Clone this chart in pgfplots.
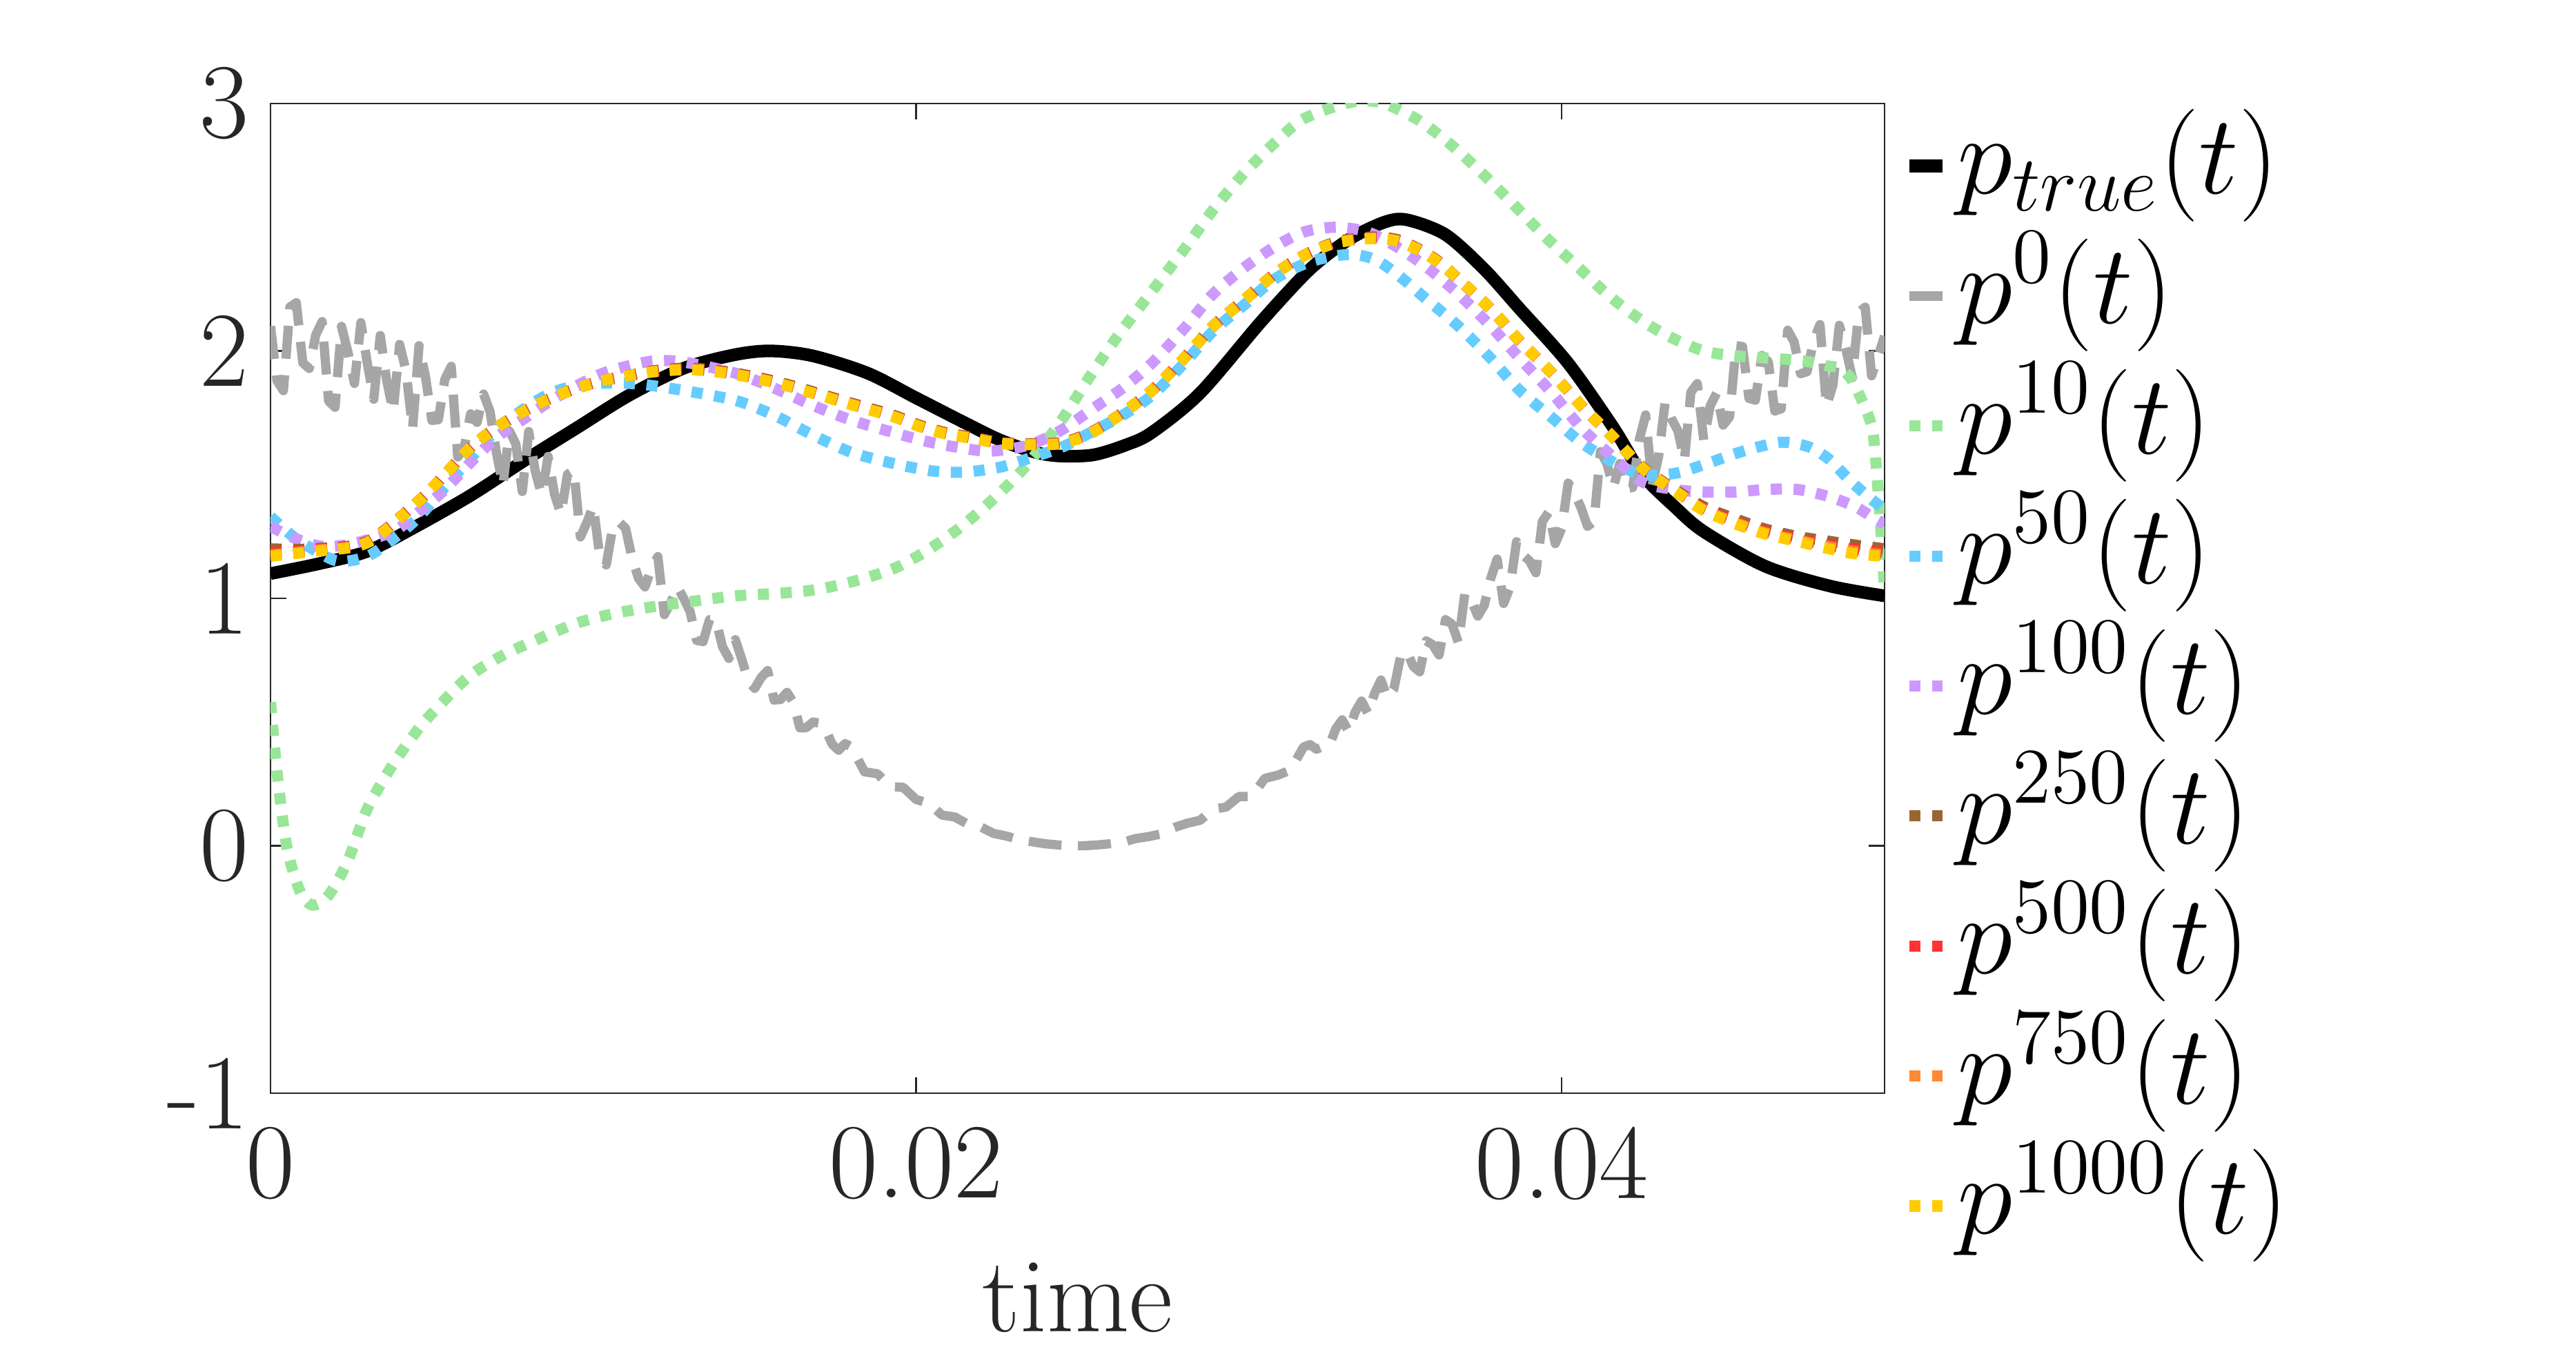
\RequirePackage{fix-cm}
\documentclass[border=0pt]{standalone}
\usepackage{pgfplots}
\pgfplotsset{compat=1.18}
\usepackage{pgfplotstable}
\definecolor{axgray}{HTML}{262626}
\definecolor{cgray}{HTML}{A6A6A6}
\definecolor{cgreen}{HTML}{99E699}
\definecolor{cblue}{HTML}{66CCFF}
\definecolor{cpurple}{HTML}{CC99FF}
\definecolor{cbrown}{HTML}{996633}
\definecolor{cred}{HTML}{FF3333}
\definecolor{corange}{HTML}{FF8833}
\definecolor{cyellow}{HTML}{FFCC00}

\pgfplotstableread{
t brown red orange yellow
0      1.200 1.185 1.175 1.170
0.0013 1.200 1.195 1.192 1.190
0.0030 1.230 1.228 1.226 1.225
0.0046 1.395 1.395 1.395 1.395
0.0054 1.500 1.500 1.500 1.500
0.0062 1.610 1.610 1.610 1.610
0.0070 1.690 1.690 1.690 1.690
0.0079 1.760 1.760 1.760 1.760
0.0087 1.810 1.810 1.810 1.810
0.0095 1.850 1.850 1.850 1.850
0.0103 1.880 1.880 1.880 1.880
0.0111 1.900 1.900 1.900 1.900
0.0119 1.920 1.918 1.917 1.916
0.0128 1.930 1.926 1.925 1.924
0.0136 1.925 1.921 1.920 1.919
0.0144 1.910 1.906 1.905 1.904
0.0152 1.890 1.886 1.885 1.884
0.0160 1.865 1.861 1.860 1.859
0.0168 1.835 1.831 1.830 1.829
0.0177 1.800 1.796 1.795 1.794
0.0185 1.770 1.766 1.765 1.764
0.0193 1.740 1.736 1.735 1.734
0.0201 1.700 1.697 1.696 1.695
0.0209 1.670 1.667 1.666 1.665
0.0218 1.650 1.647 1.646 1.645
0.0226 1.630 1.628 1.627 1.626
0.0235 1.625 1.623 1.622 1.621
0.0245 1.630 1.628 1.627 1.626
0.0254 1.670 1.668 1.667 1.666
0.0264 1.750 1.750 1.750 1.750
0.0273 1.840 1.840 1.840 1.840
0.0283 1.970 1.970 1.970 1.970
0.0292 2.100 2.100 2.100 2.100
0.0302 2.210 2.210 2.210 2.210
0.0311 2.310 2.310 2.310 2.310
0.0320 2.385 2.385 2.385 2.385
0.0330 2.440 2.438 2.437 2.436
0.0341 2.460 2.456 2.455 2.454
0.0349 2.450 2.446 2.445 2.444
0.0356 2.410 2.408 2.407 2.406
0.0362 2.360 2.358 2.357 2.356
0.0368 2.290 2.290 2.290 2.290
0.0378 2.170 2.170 2.170 2.170
0.0387 2.040 2.040 2.040 2.040
0.0397 1.910 1.910 1.910 1.910
0.0406 1.780 1.780 1.780 1.780
0.0416 1.650 1.650 1.650 1.650
0.0425 1.530 1.528 1.527 1.526
0.0435 1.440 1.436 1.435 1.434
0.0444 1.370 1.362 1.358 1.355
0.0454 1.320 1.310 1.305 1.300
0.0463 1.280 1.270 1.265 1.260
0.0473 1.250 1.240 1.235 1.230
0.0483 1.230 1.215 1.208 1.200
0.0491 1.215 1.198 1.189 1.180
0.0500 1.200 1.185 1.176 1.170
}\cluster

\begin{document}
\begin{tikzpicture}
\begin{axis}[
  scale only axis, width=11.695cm, height=7.17cm,
  xmin=0, xmax=0.05, ymin=-1, ymax=3,
  scaled x ticks=false, scaled y ticks=false,
  xtick={0,0.02,0.04}, xticklabels={0,0.02,0.04},
  ytick={-1,0,1,2,3}, yticklabels={-1,0,1,2,3},
  tick align=inside, major tick length=0.115cm,
  axis line style={axgray, line width=0.35pt},
  every tick/.style={axgray, line width=0.35pt},
  tick label style={font=\fontsize{22}{26}\selectfont, text=axgray},
  xticklabel style={yshift=-0.12cm},
  yticklabel style={xshift=-0.035cm},
  xlabel={time},
  xlabel style={font=\fontsize{22}{26}\selectfont, text=axgray, at={(axis description cs:0.5,0)}, anchor=base, yshift=-1.73cm},
  legend image code/.code={\draw[#1] (0cm,5.7pt) -- (0.24cm,5.7pt);},
  legend style={at={(1.0115,0.9972)}, anchor=north west, draw=none, fill=none,
    inner sep=0pt, outer sep=0pt, font=\fontsize{23.2}{27}\selectfont,
    row sep=0pt, column sep=0.06cm,
    cells={anchor=base west},
    nodes={inner sep=0pt, text height=18pt, text depth=8.8pt, anchor=base west}},
  dotline/.style={line width=2.3pt, line cap=butt, dash pattern=on 2.3pt off 2.4pt},
]
% p_true
\addplot[black, line width=2.6pt, smooth, tension=0.5] coordinates {
(0,1.10) (0.0015,1.14) (0.003,1.19) (0.0045,1.29) (0.0062,1.416) (0.0079,1.56) (0.0095,1.69) (0.0111,1.82) (0.0128,1.93) (0.0144,1.985) (0.0155,2.0) (0.0168,1.98) (0.0185,1.91) (0.0200,1.81) (0.0215,1.71) (0.0226,1.64) (0.0237,1.59) (0.0245,1.575) (0.0255,1.58) (0.0265,1.62) (0.0273,1.67) (0.0288,1.83) (0.0307,2.12) (0.0322,2.33) (0.0334,2.45) (0.0345,2.52) (0.0352,2.53) (0.0364,2.47) (0.0376,2.33) (0.0387,2.17) (0.0402,1.95) (0.0416,1.69) (0.0425,1.50) (0.0435,1.37) (0.0444,1.27) (0.0463,1.13) (0.0483,1.05) (0.05,1.01)
};
\addlegendentry{$p_{true}(t)$}
% p^0
\addplot[cgray, line width=1.9pt, line join=round, dash pattern=on 6.8pt off 3.4pt] coordinates {
(0,2.10) (0.0002,1.880) (0.0004,1.839) (0.0006,2.177) (0.0008,2.195) (0.0010,1.952) (0.0012,1.929) (0.0014,2.064) (0.0016,2.119) (0.0018,1.797)
(0.0020,1.772) (0.0022,2.099) (0.0024,1.994) (0.0026,1.869) (0.0028,2.114) (0.0030,1.949) (0.0032,1.805) (0.0034,2.062) (0.0036,1.880) (0.0038,1.755)
(0.0040,2.026) (0.0042,1.919) (0.0044,1.684) (0.0046,2.021) (0.0048,1.897) (0.0050,1.719) (0.0052,1.722) (0.0054,1.885) (0.0056,1.938) (0.0058,1.571)
(0.0060,1.608) (0.0062,1.746) (0.0064,1.711) (0.0066,1.826) (0.0068,1.756) (0.0070,1.588) (0.0072,1.456) (0.0074,1.677) (0.0076,1.624) (0.0078,1.432)
(0.0080,1.674) (0.0082,1.515) (0.0084,1.418) (0.0086,1.573) (0.0088,1.419) (0.0090,1.340) (0.0092,1.501) (0.0094,1.517) (0.0096,1.248) (0.0098,1.306)
(0.0100,1.374) (0.0102,1.169) (0.0104,1.135) (0.0106,1.286) (0.0108,1.309) (0.0110,1.283) (0.0112,1.163) (0.0114,1.081) (0.0116,1.046) (0.0118,1.121)
(0.0120,1.169) (0.0122,0.934) (0.0124,0.983) (0.0126,1.047) (0.0128,1.000) (0.0130,0.946) (0.0132,0.830) (0.0134,0.825) (0.0136,0.914) (0.0138,0.913)
(0.0140,0.805) (0.0142,0.757) (0.0144,0.833) (0.0146,0.754) (0.0148,0.665) (0.0150,0.636) (0.0152,0.680) (0.0154,0.708) (0.0156,0.589) (0.0158,0.591)
(0.0160,0.620) (0.0162,0.579) (0.0164,0.476) (0.0166,0.477) (0.0168,0.500) (0.0170,0.496) (0.0172,0.470) (0.0174,0.410) (0.0176,0.386) (0.0178,0.413)
(0.0180,0.399) (0.0184,0.299) (0.0188,0.291) (0.0192,0.239) (0.0196,0.236)
(0.0200,0.187) (0.0204,0.171) (0.0208,0.124) (0.0212,0.116) (0.0216,0.087) (0.0220,0.076) (0.0224,0.050) (0.0228,0.039) (0.0232,0.024) (0.0236,0.016)
(0.0240,0.008) (0.0244,0.003) (0.0248,0.000) (0.0252,0.000) (0.0256,0.003) (0.0260,0.008) (0.0264,0.014) (0.0268,0.029) (0.0272,0.037) (0.0276,0.048)
(0.0280,0.074) (0.0284,0.091) (0.0288,0.103) (0.0292,0.148) (0.0296,0.156) (0.0300,0.199) (0.0304,0.199) (0.0308,0.272) (0.0312,0.285) (0.0316,0.306)
(0.0320,0.399) (0.0322,0.409) (0.0324,0.390) (0.0326,0.401) (0.0328,0.403) (0.0330,0.473) (0.0332,0.509) (0.0334,0.461) (0.0336,0.540) (0.0338,0.585)
(0.0340,0.534) (0.0342,0.615) (0.0344,0.670) (0.0346,0.598) (0.0348,0.634) (0.0350,0.760) (0.0352,0.787) (0.0354,0.725) (0.0356,0.703) (0.0358,0.828)
(0.0360,0.813) (0.0362,0.771) (0.0364,0.914) (0.0366,0.896) (0.0368,0.821) (0.0370,1.021) (0.0372,0.991) (0.0374,0.928) (0.0376,0.972) (0.0378,1.080)
(0.0380,1.159) (0.0382,0.979) (0.0384,1.046) (0.0386,1.229) (0.0388,1.175) (0.0390,1.152) (0.0392,1.103) (0.0394,1.311) (0.0396,1.349) (0.0398,1.221)
(0.0400,1.283) (0.0402,1.466) (0.0404,1.424) (0.0406,1.366) (0.0408,1.291) (0.0410,1.311) (0.0412,1.593) (0.0414,1.544) (0.0416,1.448) (0.0418,1.545)
(0.0420,1.444) (0.0422,1.448) (0.0424,1.640) (0.0426,1.741) (0.0428,1.456) (0.0430,1.572) (0.0432,1.790) (0.0434,1.726) (0.0436,1.677) (0.0438,1.557)
(0.0440,1.833) (0.0442,1.868) (0.0444,1.639) (0.0446,1.778) (0.0448,1.830) (0.0450,1.700) (0.0452,1.733) (0.0454,2.021) (0.0456,2.018) (0.0458,1.808)
(0.0460,1.801) (0.0462,1.982) (0.0464,1.956) (0.0466,1.757) (0.0468,1.766) (0.0470,2.084) (0.0472,2.036) (0.0474,1.908) (0.0476,1.916) (0.0478,2.040)
(0.0480,2.107) (0.0482,1.777) (0.0484,1.861) (0.0486,2.104) (0.0488,2.009) (0.0490,1.892) (0.0492,2.155) (0.0494,2.177) (0.0496,1.899) (0.0498,1.979)
(0.0500,2.06)
};
\addlegendentry{$p^{0}(t)$}
% p^10
\addplot[cgreen, dotline, smooth, tension=0.5] coordinates {
(0,0.58) (0.0002,0.30) (0.0005,0.0) (0.0009,-0.18) (0.0013,-0.24) (0.0018,-0.20) (0.0024,-0.06) (0.003,0.15) (0.0038,0.33) (0.0046,0.475) (0.0054,0.59) (0.0062,0.69) (0.0072,0.77) (0.0082,0.83) (0.0095,0.90) (0.0107,0.94) (0.0119,0.967) (0.0132,0.99) (0.0144,1.01) (0.0157,1.02) (0.0169,1.035) (0.0181,1.07) (0.0193,1.12) (0.0203,1.19) (0.0213,1.28) (0.0223,1.39) (0.0233,1.52) (0.0244,1.70) (0.0254,1.90) (0.0263,2.07) (0.0273,2.24) (0.0283,2.41) (0.0292,2.57) (0.0301,2.71) (0.0311,2.84) (0.0319,2.93) (0.0328,2.98) (0.0337,3.01) (0.0345,3.0) (0.0356,2.93) (0.0366,2.83) (0.0376,2.71) (0.0386,2.58) (0.0395,2.46) (0.0405,2.34) (0.0414,2.23) (0.0424,2.13) (0.0433,2.06) (0.0444,2.0) (0.0454,1.98) (0.0465,1.97) (0.0475,1.96) (0.0482,1.94) (0.0486,1.93) (0.0490,1.88) (0.04955,1.72) (0.0497,1.60) (0.0499,1.25) (0.05,1.02)
};
\addlegendentry{$p^{10}(t)$}
% p^50
\addplot[cblue, dotline, smooth, tension=0.5] coordinates {
(0,1.33) (0.0007,1.25) (0.0013,1.20) (0.0021,1.15) (0.003,1.17) (0.0038,1.24) (0.0046,1.33) (0.0054,1.45) (0.0062,1.566) (0.0070,1.68) (0.0079,1.77) (0.0087,1.83) (0.0095,1.86) (0.0105,1.87) (0.0115,1.865) (0.0128,1.84) (0.0144,1.80) (0.0156,1.74) (0.0168,1.66) (0.018,1.59) (0.0193,1.545) (0.0205,1.515) (0.0215,1.51) (0.0226,1.53) (0.0235,1.566) (0.0245,1.61) (0.0254,1.67) (0.0264,1.74) (0.0273,1.82) (0.0283,1.95) (0.0292,2.08) (0.0302,2.19) (0.0311,2.29) (0.0322,2.36) (0.0334,2.39) (0.0342,2.37) (0.0349,2.31) (0.0358,2.21) (0.0368,2.10) (0.0378,1.97) (0.0387,1.84) (0.0397,1.73) (0.0406,1.63) (0.0416,1.55) (0.0425,1.50) (0.0435,1.505) (0.0444,1.54) (0.0455,1.59) (0.0465,1.625) (0.047,1.63) (0.0477,1.61) (0.0483,1.56) (0.0489,1.48) (0.0495,1.41) (0.05,1.36)
};
\addlegendentry{$p^{50}(t)$}
% p^100
\addplot[cpurple, dotline, smooth, tension=0.5] coordinates {
(0,1.29) (0.0008,1.24) (0.0016,1.21) (0.0025,1.22) (0.0038,1.27) (0.0046,1.35) (0.0054,1.44) (0.0062,1.55) (0.007,1.65) (0.0079,1.73) (0.0087,1.80) (0.0095,1.86) (0.0103,1.91) (0.0111,1.94) (0.0119,1.96) (0.0128,1.955) (0.0144,1.91) (0.0156,1.85) (0.0168,1.78) (0.018,1.72) (0.0193,1.67) (0.0203,1.635) (0.0213,1.61) (0.0223,1.595) (0.0235,1.62) (0.0245,1.68) (0.0254,1.76) (0.0264,1.85) (0.0273,1.95) (0.0283,2.09) (0.0292,2.23) (0.0302,2.34) (0.0311,2.42) (0.032,2.48) (0.033,2.50) (0.034,2.48) (0.0349,2.42) (0.0358,2.34) (0.0368,2.23) (0.0378,2.10) (0.0387,1.97) (0.0397,1.83) (0.0406,1.69) (0.0416,1.57) (0.0425,1.47) (0.0435,1.44) (0.0444,1.43) (0.0454,1.43) (0.0463,1.44) (0.0473,1.44) (0.0483,1.41) (0.0491,1.37) (0.0496,1.33) (0.05,1.30)
};
\addlegendentry{$p^{100}(t)$}
\addplot[cbrown, dotline, smooth, tension=0.5] table[x=t, y=brown] {\cluster};
\addlegendentry{$p^{250}(t)$}
\addplot[cred, dotline, smooth, tension=0.5] table[x=t, y=red] {\cluster};
\addlegendentry{$p^{500}(t)$}
\addplot[corange, dotline, smooth, tension=0.5] table[x=t, y=orange] {\cluster};
\addlegendentry{$p^{750}(t)$}
\addplot[cyellow, dotline, smooth, tension=0.5] table[x=t, y=yellow] {\cluster};
\addlegendentry{$p^{1000}(t)$}
\end{axis}
\pgfresetboundingbox
\useasboundingbox (-1.96cm,-2.02cm) rectangle (16.705cm,7.92cm);
\end{tikzpicture}
\end{document}
